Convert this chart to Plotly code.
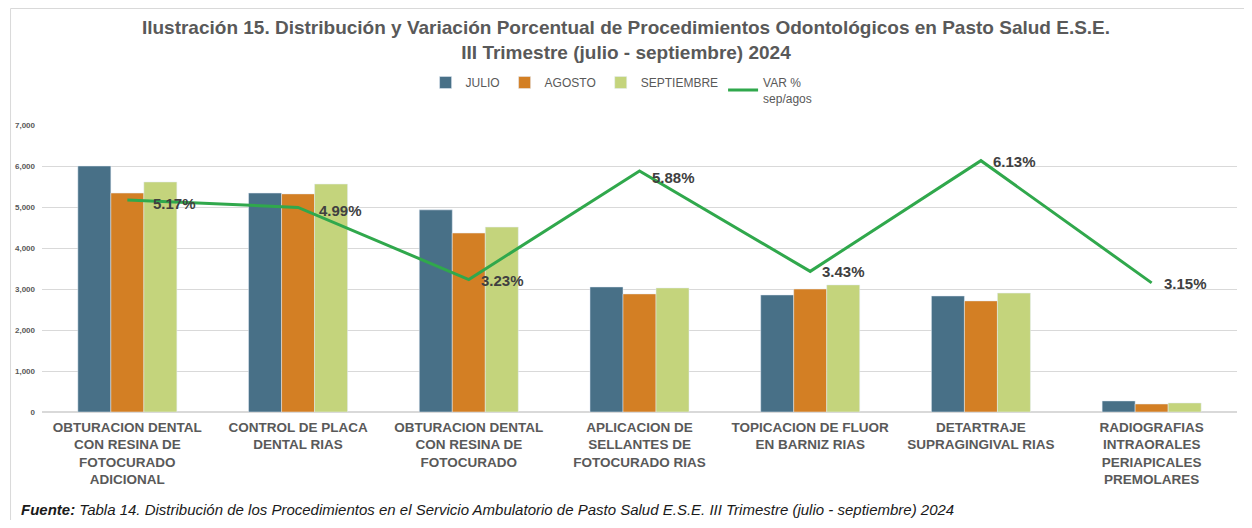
import plotly.graph_objects as go

categories = [
    "OBTURACION DENTAL<br>CON RESINA DE<br>FOTOCURADO<br>ADICIONAL",
    "CONTROL DE PLACA<br>DENTAL RIAS",
    "OBTURACION DENTAL<br>CON RESINA DE<br>FOTOCURADO",
    "APLICACION DE<br>SELLANTES DE<br>FOTOCURADO RIAS",
    "TOPICACION DE FLUOR<br>EN BARNIZ RIAS",
    "DETARTRAJE<br>SUPRAGINGIVAL RIAS",
    "RADIOGRAFIAS<br>INTRAORALES<br>PERIAPICALES<br>PREMOLARES",
]
julio = [6000, 5340, 4930, 3050, 2855, 2830, 270]
agosto = [5340, 5320, 4365, 2880, 3000, 2710, 195]
septiembre = [5610, 5560, 4510, 3025, 3100, 2900, 220]
var_pct = [5.17, 4.99, 3.23, 5.88, 3.43, 6.13, 3.15]
var_labels = ["5.17%", "4.99%", "3.23%", "5.88%", "3.43%", "6.13%", "3.15%"]

# label offsets (style only)
label_xshift = [24, 19, 10, 10, 10, 10, 10]
label_yshift = [-3, -3, -1, -7, 0, -1, -1]

# page body has an 8px margin; figure sized to fit the 1252x528 window
OFF = 8
W, H = 1252 - 2 * OFF, 528 - 2 * OFF
ml, mt = 40 - OFF, 125 - OFF
mr = W - (1237 - OFF)
mb = H - (412 - OFF)
pw, ph = W - ml - mr, H - mt - mb


def px_x(p):
    return (p - ml) / pw


def px_y(p):
    return (H - mb - p) / ph


fig = go.Figure()
fig.add_trace(go.Bar(name="JULIO", x=categories, y=julio, marker_color="#487087"))
fig.add_trace(go.Bar(name="AGOSTO", x=categories, y=agosto, marker_color="#D37F24"))
fig.add_trace(go.Bar(name="SEPTIEMBRE", x=categories, y=septiembre, marker_color="#C4D47C"))
fig.add_trace(go.Scatter(
    name="VAR %<br>sep/agos", x=categories, y=var_pct, yaxis="y2",
    mode="lines", line=dict(color="#30A84C", width=3),
))

annotations = [
    dict(xref="x", yref="y2", x=c, y=v, text=t, showarrow=False,
         xanchor="left", yanchor="middle", xshift=xs, yshift=ys,
         font=dict(family="Liberation Sans", size=15, color="#404040", weight="bold"))
    for c, v, t, xs, ys in zip(categories, var_pct, var_labels, label_xshift, label_yshift)
]
annotations.append(dict(
    xref="paper", yref="paper", x=px_x(17 - OFF), y=px_y(501),
    xanchor="left", yanchor="middle", showarrow=False,
    text="<b><i>Fuente:</i></b><i> Tabla 14. Distribución de los Procedimientos en el Servicio Ambulatorio de Pasto Salud E.S.E. III Trimestre (julio - septiembre) 2024</i>",
    font=dict(family="Liberation Sans", size=15, color="#1a1a1a"),
))

fig.update_layout(
    width=W, height=H,
    margin=dict(l=ml, r=mr, t=mt, b=mb),
    paper_bgcolor="white", plot_bgcolor="white",
    barmode="group", bargap=0.42, bargroupgap=0,
    font=dict(family="Liberation Sans", color="#595959"),
    title=dict(
        text="Ilustración 15. Distribución y Variación Porcentual de Procedimientos Odontológicos en Pasto Salud E.S.E.<br>III Trimestre (julio - septiembre) 2024",
        x=0.5, xanchor="center", y=1 - (34 - OFF) / H, yanchor="middle",
        font=dict(family="Liberation Sans", size=19, color="#595959", weight="bold"),
    ),
    legend=dict(
        orientation="h", x=0.485, xanchor="center", y=px_y(60), yanchor="top",
        font=dict(size=12, color="#595959"), traceorder="normal",
        itemwidth=30,
    ),
    xaxis=dict(
        tickfont=dict(family="Liberation Sans", size=13.5, color="#595959", weight="bold"),
        showgrid=False, showline=False, ticks="", ticklabelstandoff=5,
    ),
    yaxis=dict(
        range=[0, 7000], dtick=1000, tickformat=",d",
        gridcolor="#D9D9D9", gridwidth=1, zeroline=True, zerolinecolor="#D9D9D9",
        tickfont=dict(size=8, color="#595959", weight="bold"),
        showline=False, ticklabelstandoff=6,
    ),
    yaxis2=dict(range=[0, 7], overlaying="y", side="right", visible=False, showgrid=False),
    shapes=[
        dict(type="line", xref="paper", yref="paper", x0=px_x(0.5), x1=px_x(W),
             y0=px_y(0.5), y1=px_y(0.5), line=dict(color="#D9D9D9", width=1)),
        dict(type="line", xref="paper", yref="paper", x0=px_x(0.5), x1=px_x(0.5),
             y0=px_y(0.5), y1=px_y(H), line=dict(color="#D9D9D9", width=1)),
    ],
    annotations=annotations,
)

fig.write_html("out.html")
